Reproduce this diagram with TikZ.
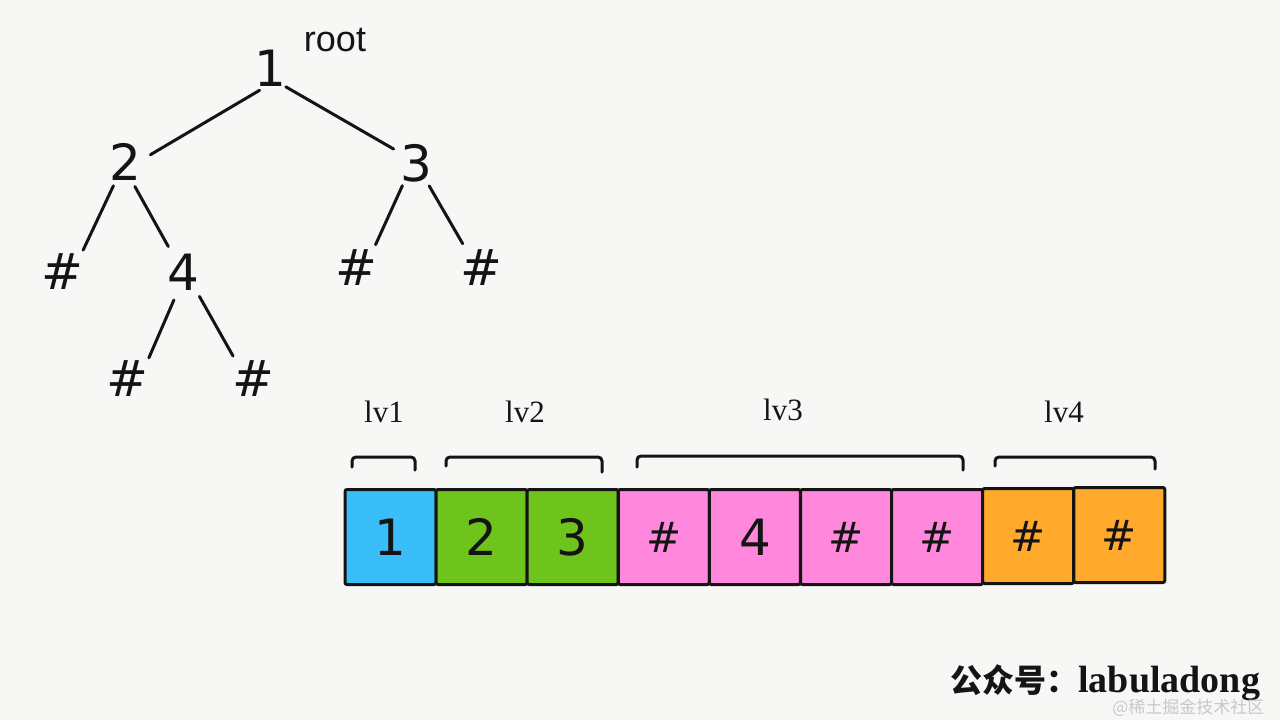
\documentclass[tikz,border=0pt]{standalone}
\usepackage{fontspec}
\newfontfamily\dv{DejaVu Sans}
\newfontfamily\ls{Liberation Sans}
\newfontfamily\tms{Liberation Serif}
\newfontfamily\cjk{Noto Sans CJK SC}
\definecolor{bgc}{RGB}{247,247,245}
\definecolor{cblue}{RGB}{58,190,250}
\definecolor{cgreen}{RGB}{110,196,28}
\definecolor{cpink}{RGB}{255,136,220}
\definecolor{corange}{RGB}{255,170,44}
\definecolor{ink}{RGB}{20,20,20}
\definecolor{wm}{RGB}{200,200,200}
\tikzset{
  tn/.style={circle,inner sep=0pt,font=\dv\fontsize{25}{25}\selectfont,text=ink},
  edge/.style={draw=ink,line width=1.5pt,line cap=round},
  cell/.style={draw=ink,line width=1.5pt,rounded corners=1pt,minimum width=45.5pt,minimum height=47.5pt,inner sep=0pt,text=ink},
  dig/.style={font=\dv\fontsize{25}{25}\selectfont},
  hsh/.style={font=\dv\fontsize{21}{21}\selectfont},
  brk/.style={draw=ink,line width=1.5pt,line cap=round,rounded corners=2pt},
  lvl/.style={font=\tms\fontsize{15.5}{15.5}\selectfont,text=ink,inner sep=0pt}
}
\begin{document}
\begin{tikzpicture}[x=0.5pt,y=-0.5pt]
\fill[bgc] (0,0) rectangle (1280,720);
\useasboundingbox (0,0) rectangle (1280,720);
% tree
\node[tn,minimum size=24pt] (n1) at (270,68) {1};
\node[font=\ls\fontsize{18}{18}\selectfont,text=ink,inner sep=0pt] (root) at (335,40) {root};
\node[tn,minimum size=26pt] (n2) at (125,162) {2};
\node[tn,minimum size=26pt] (n3) at (416,163) {3};
\node[tn,minimum size=30pt] (h1) at (62,272) {\#};
\node[tn,minimum size=29pt] (n4) at (183,272) {4};
\node[tn,minimum size=30pt] (h3a) at (356,268) {\#};
\node[tn,minimum size=30pt] (h3b) at (481,268) {\#};
\node[tn,minimum size=30pt] (h4a) at (127,379) {\#};
\node[tn,minimum size=30pt] (h4b) at (253,379) {\#};
\draw[edge] (n1.245) -- (n2.16);
\draw[edge] (n1.310) -- (n3.148);
\draw[edge] (n2.244) -- (h1.46);
\draw[edge] (n2.292) -- (n4.120);
\draw[edge] (n3.239) -- (h3a.50);
\draw[edge] (n3.300) -- (h3b.127);
\draw[edge] (n4.252) -- (h4a.44);
\draw[edge] (n4.304) -- (h4b.131);
% cells
\node[cell,fill=cblue,dig] (c1) at (390.5,537) {1};
\node[cell,fill=cgreen,dig] (c2) at (481.6,537) {2};
\node[cell,fill=cgreen,dig] (c3) at (572.7,537) {3};
\node[cell,fill=cpink,hsh] (c4) at (663.8,537) {\#};
\node[cell,fill=cpink,dig] (c5) at (754.9,537) {4};
\node[cell,fill=cpink,hsh] (c6) at (846.0,537) {\#};
\node[cell,fill=cpink,hsh] (c7) at (937.1,537) {\#};
\node[cell,fill=corange,hsh] (c8) at (1028.2,536) {\#};
\node[cell,fill=corange,hsh] (c9) at (1119.3,535) {\#};
% brackets
\draw[brk] (352,467) -- (352,457) -- (415,457) -- (415,470);
\draw[brk] (446,466) -- (446,457) -- (602,457) -- (602,472);
\draw[brk] (637,467) -- (637,456) -- (963,456) -- (963,470);
\draw[brk] (995,466) -- (995,457) -- (1155,457) -- (1155,469);
\node[lvl] (l1) at (384,412) {lv1};
\node[lvl] (l2) at (525,412) {lv2};
\node[lvl] (l3) at (783,410) {lv3};
\node[lvl] (l4) at (1064,412) {lv4};
% watermark
\node[anchor=base west,inner sep=0pt,text=ink] (wm1) at (950,692) {{\cjk\bfseries\fontsize{16}{16}\selectfont 公众号：}{\tms\bfseries\fontsize{19}{19}\selectfont labuladong}};
\node[anchor=west,inner sep=0pt,text=wm,font=\cjk\fontsize{8.5}{8.5}\selectfont] (wm2) at (1112,708) {@稀土掘金技术社区};
\end{tikzpicture}
\end{document}
